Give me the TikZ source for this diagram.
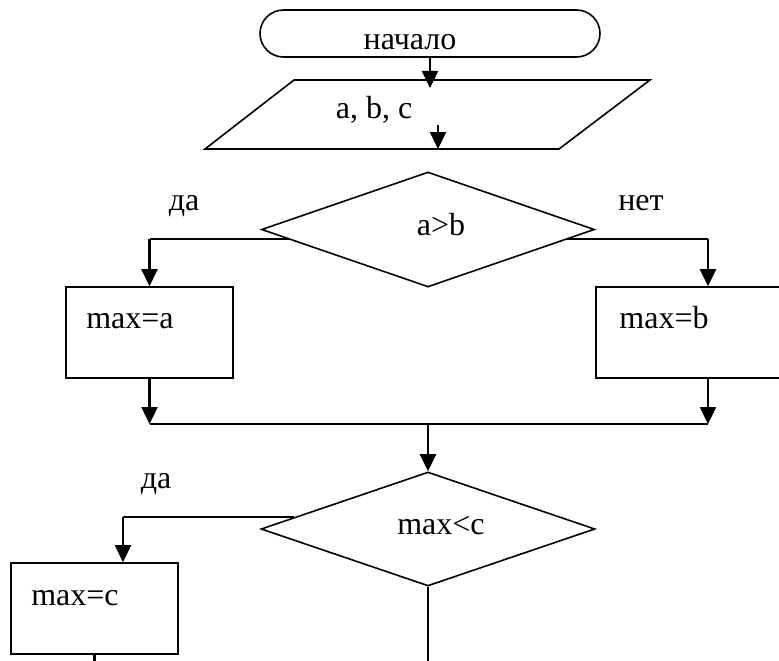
\documentclass[tikz,border=0pt]{standalone}
\usepackage{fontspec}
\setmainfont{Liberation Serif}
\newfontfamily\flowfont{Liberation Serif}
\usetikzlibrary{arrows.meta, positioning, shapes.geometric, shapes.misc}

\begin{document}
\begin{tikzpicture}[
    x=1pt, y=-1pt,
    every node/.style={font=\flowfont\fontsize{32}{38}\selectfont},
    outline/.style={draw, line width=1.6pt, inner sep=0pt},
    flow/.style={line width=2.4pt, -{Triangle[length=17pt, width=16pt]}},
    joinline/.style={line width=1.6pt},
    caption/.style={anchor=base, inner sep=0pt}
]
\useasboundingbox (0, 0) rectangle (779, 661);

% blocks
\node[outline, rounded rectangle, minimum width=340pt, minimum height=47pt] (start) at (430, 33.5) {};
\coordinate (inbl) at (205, 149);
\coordinate (inbr) at (559, 149);
\coordinate (intr) at (650, 80);
\coordinate (intl) at (294, 80);
\draw[line width=1.6pt] (inbl) -- (inbr) -- (intr) -- (intl) -- cycle;
\node[outline, diamond, minimum width=333pt, minimum height=115pt] (cmpab) at (428, 229.5) {};
\node[outline, rectangle, minimum width=167pt, minimum height=91pt] (maxa) at (149.5, 332.5) {};
\node[outline, rectangle, minimum width=224pt, minimum height=91pt] (maxb) at (708, 332.5) {};
\node[outline, diamond, minimum width=334pt, minimum height=114pt] (cmpmax) at (428, 529) {};
\node[outline, rectangle, minimum width=167pt, minimum height=91pt] (maxc) at (94.5, 608.5) {};

% texts
\node[caption] (tstart) at (410, 50) {начало};
\node[caption] (tinput) at (374, 118) {a, b, c};
\node[caption] (tyes1) at (184, 210) {да};
\node[caption] (tno1) at (641, 210) {нет};
\node[caption] (tab) at (441, 235) {a>b};
\node[caption] (tmaxa) at (130, 328) {max=a};
\node[caption] (tmaxb) at (664, 328) {max=b};
\node[caption] (tyes2) at (156, 488) {да};
\node[caption] (tmaxc) at (441, 534) {max<c};
\node[caption] (tmaxcc) at (75, 605) {max=c};

% connectors
\coordinate (inmid) at (438, 125);
\coordinate (merge) at (428, 424);
\coordinate (cdrop) at ([xshift=28.5pt]maxc.north);
\coordinate (outc) at (94.5, 672);
\coordinate (outmax) at (428, 672);

\draw[flow, shorten >=-8pt] (start.south) -- (start.south |- intl);
\draw[flow] (inmid) -- (inmid |- inbl);

\draw[joinline] (cmpab.184) -- (cmpab.184 -| maxa.north);
\draw[flow] (cmpab.184 -| maxa.north) -- (maxa.north);
\draw[joinline] (cmpab.356) -- (cmpab.356 -| maxb.north);
\draw[flow] (cmpab.356 -| maxb.north) -- (maxb.north);

\draw[flow] (maxa.south) -- (maxa.south |- merge);
\draw[flow] (maxb.south) -- (maxb.south |- merge);
\draw[joinline] (maxa.south |- merge) -- (maxb.south |- merge);
\draw[flow] (merge) -- (cmpmax.north);

\draw[joinline] (cmpmax.175) -- (cmpmax.175 -| cdrop);
\draw[flow] (cmpmax.175 -| cdrop) -- (cdrop);

\draw[line width=2.4pt] (maxc.south) -- (outc);
\draw[line width=2.4pt] (cmpmax.south) -- (outmax);
\end{tikzpicture}
\end{document}
